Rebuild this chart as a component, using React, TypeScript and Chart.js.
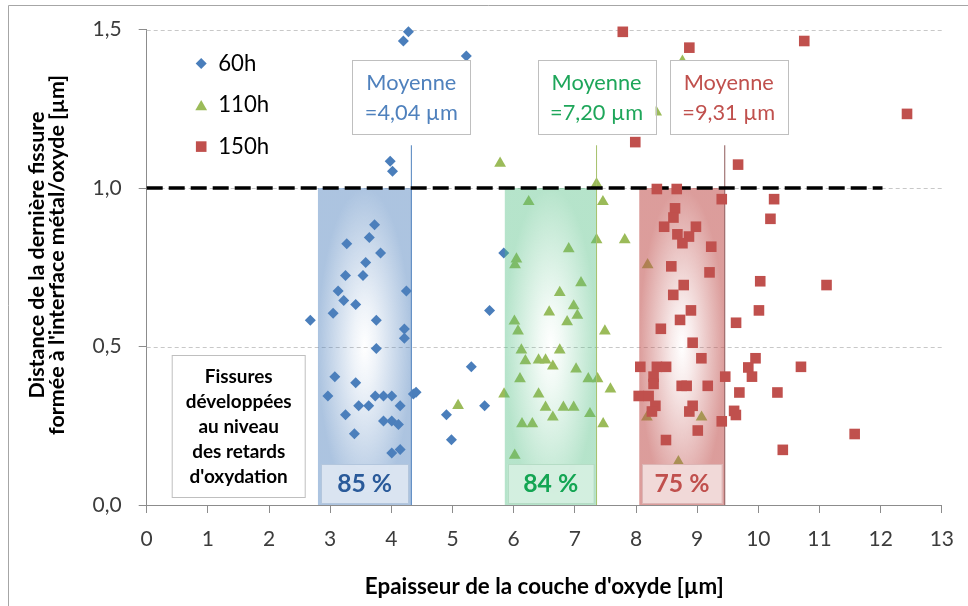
import React, { useEffect, useRef } from 'react';
import { Chart, registerables } from 'chart.js';

Chart.register(...registerables);

// ---------- data ----------
const seriesLabels = ['60h', '110h', '150h'];

const x60h = [3.726, 3.271, 3.640, 3.824, 3.580, 3.250, 3.536, 3.130, 4.246, 3.222, 3.417, 2.675, 3.048, 3.754, 4.213, 4.213, 3.754, 3.076, 3.417, 2.962, 3.737, 3.872, 4.007, 4.360, 4.404, 3.466, 3.629, 4.144, 3.250, 3.872, 4.007, 4.116, 3.396, 4.007, 4.144, 4.901, 4.982, 5.307, 4.279, 4.197, 5.226, 3.981, 4.019, 5.838, 5.606, 5.525];
const y60h = [0.884, 0.824, 0.844, 0.795, 0.765, 0.724, 0.724, 0.675, 0.675, 0.645, 0.633, 0.583, 0.605, 0.583, 0.555, 0.526, 0.494, 0.405, 0.386, 0.344, 0.344, 0.344, 0.344, 0.350, 0.356, 0.313, 0.313, 0.313, 0.285, 0.265, 0.265, 0.254, 0.225, 0.164, 0.175, 0.285, 0.206, 0.436, 1.493, 1.464, 1.417, 1.085, 1.053, 0.795, 0.614, 0.313];

const x110h = [7.355, 6.245, 7.459, 7.355, 7.816, 6.900, 6.045, 6.022, 7.101, 6.753, 6.981, 6.581, 7.041, 6.012, 6.874, 6.071, 7.491, 6.126, 6.753, 6.191, 6.407, 6.521, 6.640, 7.020, 6.103, 7.220, 7.371, 7.582, 5.843, 6.407, 6.521, 6.813, 6.981, 6.640, 7.247, 6.136, 6.305, 7.463, 6.017, 5.091, 8.190, 8.178, 9.072, 8.693, 8.759, 5.778, 8.330];
const y110h = [1.013, 0.957, 0.957, 0.837, 0.837, 0.808, 0.776, 0.758, 0.701, 0.670, 0.628, 0.609, 0.598, 0.580, 0.578, 0.549, 0.549, 0.489, 0.489, 0.455, 0.457, 0.457, 0.438, 0.429, 0.398, 0.398, 0.398, 0.366, 0.350, 0.350, 0.308, 0.308, 0.308, 0.277, 0.288, 0.256, 0.256, 0.256, 0.157, 0.314, 0.758, 0.277, 0.277, 0.136, 1.400, 1.078, 1.240];

const x150h = [8.341, 8.666, 9.402, 10.258, 10.198, 8.638, 8.612, 8.460, 8.980, 8.677, 8.866, 8.759, 9.230, 8.577, 9.202, 10.031, 11.115, 8.780, 8.609, 8.898, 10.010, 8.720, 9.636, 8.406, 8.926, 9.069, 9.954, 8.070, 8.341, 8.492, 9.836, 10.697, 8.287, 8.287, 9.459, 9.896, 8.747, 8.828, 9.173, 8.044, 8.206, 9.690, 10.312, 8.317, 8.926, 8.260, 8.872, 9.604, 9.633, 9.402, 9.010, 8.490, 10.400, 11.575, 7.784, 8.872, 10.751, 12.431, 7.988, 9.669];
const y150h = [0.997, 0.997, 0.965, 0.965, 0.903, 0.936, 0.907, 0.878, 0.878, 0.854, 0.847, 0.826, 0.815, 0.753, 0.734, 0.706, 0.694, 0.694, 0.663, 0.614, 0.614, 0.584, 0.575, 0.556, 0.512, 0.463, 0.463, 0.436, 0.436, 0.436, 0.434, 0.436, 0.405, 0.382, 0.405, 0.405, 0.376, 0.376, 0.376, 0.344, 0.344, 0.355, 0.355, 0.313, 0.313, 0.295, 0.295, 0.297, 0.284, 0.264, 0.235, 0.205, 0.174, 0.224, 1.493, 1.443, 1.464, 1.234, 1.145, 1.074];

const xMin = 0;
const xMax = 13;
const xStep = 1;
const yMin = 0;
const yMax = 1.5;
const yStep = 0.5;

const zoneStart = [2.8, 5.855, 8.053];
const zoneEnd = [4.327, 7.355, 9.451];
const zoneTop = 1.0;
const zonePercent = ['85 %', '84 %', '75 %'];
const meanWord = 'Moyenne';
const meanValue = ['=4,04 µm', '=7,20 µm', '=9,31 µm'];
const meanLineTop = 1.135;
const thresholdY = 1.0;
const thresholdXEnd = 12.03;
const noteLines = ['Fissures', 'développées', 'au niveau', 'des retards', "d'oxydation"];
const xTitle = "Epaisseur de la couche d'oxyde [µm]";
const yTitle = ['Distance de la dernière fissure', "formée à l'interface métal/oxyde [µm]"];

// ---------- styles ----------
const FONT = 'Lato, "Open Sans", sans-serif';
const seriesColors = ['#4a7ebb', '#9bbb59', '#c0504d'];
const meanLineColors = ['#4f81bd', '#a5c06a', '#8e5a5a'];
const zoneRGBA = [
  [79, 129, 189, 0.47],
  [80, 190, 130, 0.42],
  [192, 80, 77, 0.56],
];
const pctFill = ['rgba(220,230,242,0.95)', 'rgba(213,239,224,0.95)', 'rgba(242,220,219,0.95)'];
const pctBorder = ['#b3c6dd', '#b5dcc5', '#dcb5b5'];
const pctText = ['#2a5a9a', '#13a553', '#c0504d'];
const meanTextColor = ['#4f81bd', '#1ea65a', '#c0504d'];
const axisColor = '#8c8c8c';
const tickColor = '#3c3c3c';

const zip = (xs: number[], ys: number[]) => xs.map((x, i) => ({ x, y: ys[i] }));

function fitSize(ctx: CanvasRenderingContext2D, text: string, target: number, weight: string) {
  ctx.font = `${weight} 20px ${FONT}`;
  const w = ctx.measureText(text).width || 1;
  return (20 * target) / w;
}

function drawMarker(ctx: CanvasRenderingContext2D, kind: number, x: number, y: number) {
  ctx.beginPath();
  if (kind === 0) {
    const r = 5.5;
    ctx.moveTo(x - r, y);
    ctx.lineTo(x, y - r);
    ctx.lineTo(x + r, y);
    ctx.lineTo(x, y + r);
  } else if (kind === 1) {
    const r = 6.8;
    ctx.moveTo(x, y - r + 1.7);
    ctx.lineTo(x + r * 0.866, y + r * 0.5 + 1.7);
    ctx.lineTo(x - r * 0.866, y + r * 0.5 + 1.7);
  } else {
    const s = 5.3;
    ctx.rect(x - s, y - s, 2 * s, 2 * s);
  }
  ctx.closePath();
  ctx.fillStyle = seriesColors[kind];
  ctx.fill();
}

export default function App() {
  const ref = useRef<HTMLCanvasElement | null>(null);

  useEffect(() => {
    document.body.style.margin = '0';
    const canvas = ref.current;
    if (!canvas) return;

    let zonesDrawn = false;

    const overlay = {
      id: 'overlay',
      beforeDatasetsDraw(chart: any) {
        const { ctx, chartArea } = chart;
        const ys = chart.scales.y;
        ctx.save();
        ctx.strokeStyle = '#c8c8c8';
        ctx.lineWidth = 1;
        ctx.setLineDash([4, 3]);
        ys.ticks.forEach((t: any) => {
          if (t.value === 0) return;
          const py = Math.round(ys.getPixelForValue(t.value)) + 0.5;
          ctx.beginPath();
          ctx.moveTo(chartArea.left, py);
          ctx.lineTo(chartArea.right, py);
          ctx.stroke();
        });
        ctx.restore();
        zonesDrawn = false;
      },
      beforeDatasetDraw(chart: any, args: any) {
        const ds = chart.data.datasets[args.index];
        if (zonesDrawn || ds.order > 3) return;
        zonesDrawn = true;
        const { ctx } = chart;
        const xs = chart.scales.x;
        const ys = chart.scales.y;
        for (let i = 0; i < zoneStart.length; i++) {
          const x0 = xs.getPixelForValue(zoneStart[i]);
          const x1 = xs.getPixelForValue(zoneEnd[i]);
          const y0 = ys.getPixelForValue(zoneTop);
          const y1 = ys.getPixelForValue(0);
          const w = x1 - x0;
          const h = y1 - y0;
          const [r, g, b, a] = zoneRGBA[i];
          ctx.save();
          ctx.beginPath();
          ctx.rect(x0, y0, w, h);
          ctx.clip();
          ctx.translate(x0 + w / 2, y0 + h / 2);
          ctx.scale(w / 2, h / 2);
          const grad = ctx.createRadialGradient(0, 0, 0, 0, 0, 1);
          grad.addColorStop(0, `rgba(${r},${g},${b},0)`);
          grad.addColorStop(0.25, `rgba(${r},${g},${b},${a * 0.2})`);
          grad.addColorStop(1, `rgba(${r},${g},${b},${a})`);
          ctx.fillStyle = grad;
          ctx.fillRect(-1.5, -1.5, 3, 3);
          ctx.restore();
        }
      },
      afterDatasetsDraw(chart: any) {
        const { ctx, chartArea } = chart;
        const xs = chart.scales.x;
        const ys = chart.scales.y;
        const yBottom = ys.getPixelForValue(0);
        ctx.save();
        // percent boxes
        const pctSize = fitSize(ctx, zonePercent[0], 55, 'bold');
        for (let i = 0; i < zoneStart.length; i++) {
          const x0 = xs.getPixelForValue(zoneStart[i]) + 3;
          const x1 = xs.getPixelForValue(zoneEnd[i]) - 3;
          const top = yBottom - 41;
          ctx.fillStyle = pctFill[i];
          ctx.fillRect(x0, top, x1 - x0, 39);
          ctx.strokeStyle = pctBorder[i];
          ctx.lineWidth = 1;
          ctx.strokeRect(Math.round(x0) + 0.5, Math.round(top) + 0.5, Math.round(x1 - x0), 39);
          ctx.fillStyle = pctText[i];
          ctx.font = `bold ${pctSize}px ${FONT}`;
          ctx.textAlign = 'center';
          ctx.textBaseline = 'middle';
          ctx.fillText(zonePercent[i], (x0 + x1) / 2, top + 20);
        }
        // mean boxes
        const meanSize = fitSize(ctx, meanWord, 90, 'normal');
        for (let i = 0; i < zoneEnd.length; i++) {
          const cx = xs.getPixelForValue(zoneEnd[i]) + (i === 2 ? 4 : 0);
          const bw = 118;
          const top = 60.5;
          const bh = 74;
          ctx.fillStyle = '#ffffff';
          ctx.fillRect(cx - bw / 2, top, bw, bh);
          ctx.strokeStyle = '#bfbfbf';
          ctx.strokeRect(Math.round(cx - bw / 2) + 0.5, top, bw, bh);
          ctx.fillStyle = meanTextColor[i];
          ctx.font = `${meanSize}px ${FONT}`;
          ctx.textAlign = 'center';
          ctx.textBaseline = 'middle';
          ctx.fillText(meanWord, cx, top + 22);
          ctx.fillText(meanValue[i], cx, top + 52);
        }
        // note box
        const nx = chartArea.left + 25.5;
        const ny = 355.5;
        ctx.fillStyle = '#ffffff';
        ctx.fillRect(nx, ny, 133, 142);
        ctx.strokeStyle = '#bfbfbf';
        ctx.strokeRect(nx, ny, 133, 142);
        const noteSize = fitSize(ctx, noteLines[1], 106, 'bold');
        ctx.fillStyle = '#000000';
        ctx.font = `bold ${noteSize}px ${FONT}`;
        ctx.textAlign = 'center';
        ctx.textBaseline = 'middle';
        noteLines.forEach((s, k) => ctx.fillText(s, nx + 66.5, ny + 21.5 + k * 25));
        // legend
        const lx = chartArea.left + 54.5;
        const ly = chartArea.top + 34;
        const legSize = fitSize(ctx, seriesLabels[2], 51, 'normal');
        ctx.font = `${legSize}px ${FONT}`;
        ctx.textAlign = 'left';
        ctx.textBaseline = 'middle';
        seriesLabels.forEach((lab, k) => {
          const yy = ly + k * 41.5;
          drawMarker(ctx, k, lx, yy);
          ctx.fillStyle = '#000000';
          ctx.fillText(lab, lx + 17, yy);
        });
        // axis titles
        ctx.fillStyle = '#000000';
        ctx.textAlign = 'center';
        ctx.textBaseline = 'middle';
        const xtSize = fitSize(ctx, xTitle, 359, 'bold');
        ctx.font = `bold ${xtSize}px ${FONT}`;
        ctx.fillText(xTitle, (chartArea.left + chartArea.right) / 2, 587);
        const ytSize = fitSize(ctx, yTitle[1], 360, 'bold');
        ctx.font = `bold ${ytSize}px ${FONT}`;
        ctx.save();
        ctx.translate(0, 255);
        ctx.rotate(-Math.PI / 2);
        ctx.fillText(yTitle[0], 0, 37.5);
        ctx.fillText(yTitle[1], 0, 57);
        ctx.restore();
        // outer frame
        ctx.strokeStyle = '#a6a6a6';
        ctx.lineWidth = 1;
        ctx.beginPath();
        ctx.moveTo(8.5, 606);
        ctx.lineTo(8.5, 5.5);
        ctx.lineTo(968, 5.5);
        ctx.stroke();
        ctx.restore();
      },
    };

    const meanLines = zoneEnd.map((xv, i) => ({
      label: 'mean' + i,
      data: [{ x: xv, y: 0 }, { x: xv, y: meanLineTop }],
      showLine: true,
      borderColor: meanLineColors[i],
      borderWidth: 1,
      pointRadius: 0,
      order: 3,
      clip: false,
    }));

    const chart = new Chart(canvas, {
      type: 'scatter',
      data: {
        datasets: [
          {
            label: seriesLabels[2],
            data: zip(x150h, y150h),
            pointStyle: 'rect',
            pointRadius: 7.5,
            pointBackgroundColor: seriesColors[2],
            pointBorderWidth: 0,
            order: 1,
            clip: false,
          },
          {
            label: 'seuil',
            data: [{ x: 0, y: thresholdY }, { x: thresholdXEnd, y: thresholdY }],
            showLine: true,
            borderColor: '#000000',
            borderWidth: 3.5,
            borderDash: [16, 6],
            pointRadius: 0,
            order: 2,
            clip: false,
          },
          ...meanLines,
          {
            label: seriesLabels[1],
            data: zip(x110h, y110h),
            pointStyle: 'triangle',
            pointRadius: 6.8,
            pointBackgroundColor: seriesColors[1],
            pointBorderWidth: 0,
            order: 4,
            clip: false,
          },
          {
            label: seriesLabels[0],
            data: zip(x60h, y60h),
            pointStyle: 'rectRot',
            pointRadius: 5.5,
            pointBackgroundColor: seriesColors[0],
            pointBorderWidth: 0,
            order: 5,
            clip: false,
          },
        ] as any,
      },
      options: {
        responsive: false,
        animation: false,
        events: [],
        layout: { padding: { top: 27, right: 21.3, left: 0, bottom: 0 } },
        plugins: { legend: { display: false }, tooltip: { enabled: false } },
        scales: {
          x: {
            type: 'linear',
            min: xMin,
            max: xMax,
            ticks: {
              stepSize: xStep,
              color: tickColor,
              font: { family: FONT, size: 21 },
              padding: 14,
              maxRotation: 0,
              autoSkip: false,
            },
            grid: { drawOnChartArea: false, drawTicks: true, tickLength: 8, color: axisColor },
            border: { color: axisColor, width: 1 },
            title: { display: false },
            afterFit: (s: any) => {
              s.height = 101;
            },
          },
          y: {
            type: 'linear',
            min: yMin,
            max: yMax,
            ticks: {
              stepSize: yStep,
              color: tickColor,
              font: { family: FONT, size: 21 },
              padding: 17,
              callback: (v: any) => Number(v).toFixed(1).replace('.', ','),
            },
            grid: { drawOnChartArea: false, drawTicks: true, tickLength: 8, color: axisColor },
            border: { color: axisColor, width: 1 },
            title: { display: false },
            afterFit: (s: any) => {
              s.width = 146.7;
            },
          },
        },
      } as any,
      plugins: [overlay],
    });

    return () => chart.destroy();
  }, []);

  return (
    <div style={{ width: 968, height: 606, background: '#ffffff' }}>
      <canvas ref={ref} width={968} height={606} style={{ display: 'block' }} />
    </div>
  );
}
